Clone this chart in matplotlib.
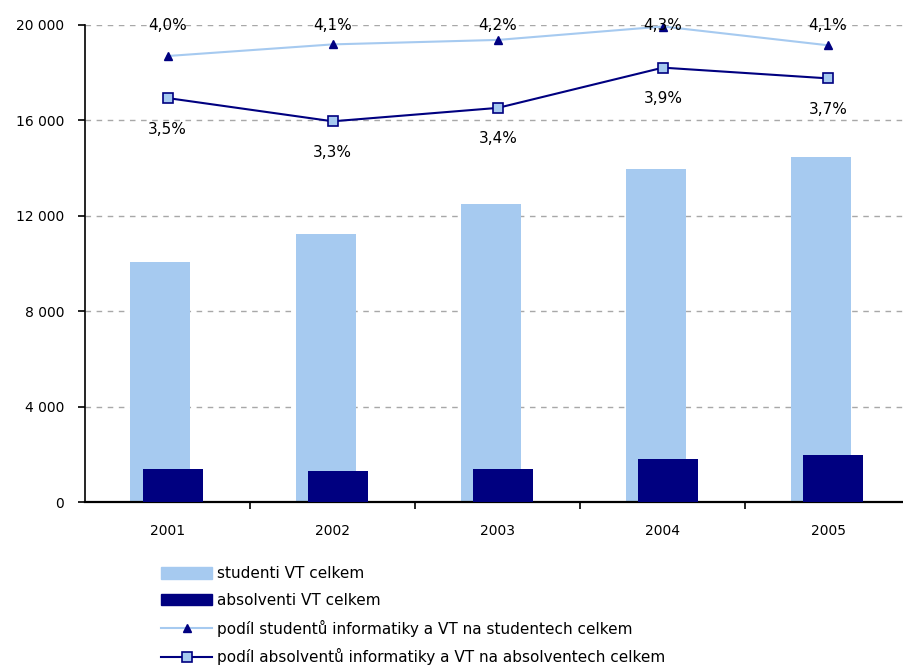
import numpy as np
import matplotlib
matplotlib.use("Agg")
from matplotlib import pyplot as plt
from matplotlib.ticker import FuncFormatter
from matplotlib.lines import Line2D
from matplotlib.patches import Patch

plt.rcParams['font.family'] = ['DejaVu Sans']

# data
roky = ['2001', '2002', '2003', '2004', '2005']
studenti = [10050, 11250, 12500, 13950, 14450]
absolventi = [1400, 1300, 1400, 1810, 1980]
podil_studentu = [3.99, 4.12, 4.17, 4.32, 4.11]
podil_absolventu = [3.52, 3.26, 3.41, 3.86, 3.74]

svetla = '#a6caf0'
tmava = '#000080'
fs = 10
fs_leg = 11

fig = plt.figure(figsize=(9.04, 6.66), dpi=100)
ax = fig.add_axes([85 / 904, 164 / 666, 825.6 / 904, 477 / 666])

x = np.arange(len(roky))
ax.bar(x - 0.043, studenti, width=0.363, color=svetla, zorder=2)
ax.bar(x + 0.031, absolventi, width=0.365, color=tmava, zorder=3)

ax.set_xlim(-0.5, len(roky) - 0.5)
ax.set_ylim(0, 20000)
ax.set_yticks(np.arange(0, 20001, 4000))
ax.yaxis.set_major_formatter(FuncFormatter(lambda v, p: f"{int(v):,}".replace(',', ' ')))
ax.set_xticks(x)
ax.set_xticklabels(roky)
ax.set_xticks(np.arange(0.5, len(roky) - 0.5, 1), minor=True)
ax.tick_params(axis='x', which='major', length=0, pad=16, labelsize=fs)
ax.tick_params(axis='x', which='minor', length=5, width=1.2, direction='out')
ax.tick_params(axis='y', length=5, width=1.2, direction='out', pad=10, labelsize=fs)

for s in ['top', 'right']:
    ax.spines[s].set_visible(False)
ax.spines['left'].set_linewidth(1.2)
ax.spines['bottom'].set_linewidth(1.6)
ax.set_axisbelow(True)
for v in range(4000, 20001, 4000):
    ax.axhline(v, color='#a8a8a8', lw=1, ls=(0, (4, 4)), zorder=0)

# podily na skryte vedlejsi ose
ax2 = ax.twinx()
ax2.set_ylim(-0.9965, 4.3368)
ax2.axis('off')
ax2.plot(x, podil_studentu, color=svetla, lw=1.5, marker='^', ms=6,
         mfc=tmava, mec=tmava, zorder=4, clip_on=False)
ax2.plot(x, podil_absolventu, color=tmava, lw=1.5, marker='s', ms=7,
         mfc=svetla, mec=tmava, mew=1.2, zorder=4, clip_on=False)

def fmt(v):
    return f"{v:.1f}".replace('.', ',') + '%'

for i, v in enumerate(podil_studentu):
    ax2.text(i, 1.0, fmt(v), transform=ax2.get_xaxis_transform(),
             ha='center', va='center', fontsize=fs_leg, zorder=5)
for i, v in enumerate(podil_absolventu):
    ax2.annotate(fmt(v), (i, v), xytext=(0, -31), textcoords='offset pixels',
                 ha='center', va='center', fontsize=fs_leg, zorder=5)

handles = [
    Patch(color=svetla),
    Patch(color=tmava),
    Line2D([], [], color=svetla, lw=1.5, marker='^', ms=6, mfc=tmava, mec=tmava),
    Line2D([], [], color=tmava, lw=1.5, marker='s', ms=7, mfc=svetla, mec=tmava, mew=1.2),
]
labels = ['studenti VT celkem', 'absolventi VT celkem',
          'podíl studentů informatiky a VT na studentech celkem',
          'podíl absolventů informatiky a VT na absolventech celkem']
fig.legend(handles, labels, loc='upper left', bbox_to_anchor=(161 / 904, 1 - 566 / 666),
           frameon=False, fontsize=fs_leg, handlelength=3.35, handleheight=0.8,
           handletextpad=0.33, labelspacing=0.77, borderpad=0, borderaxespad=0)

fig.savefig('out.png', dpi=100)
